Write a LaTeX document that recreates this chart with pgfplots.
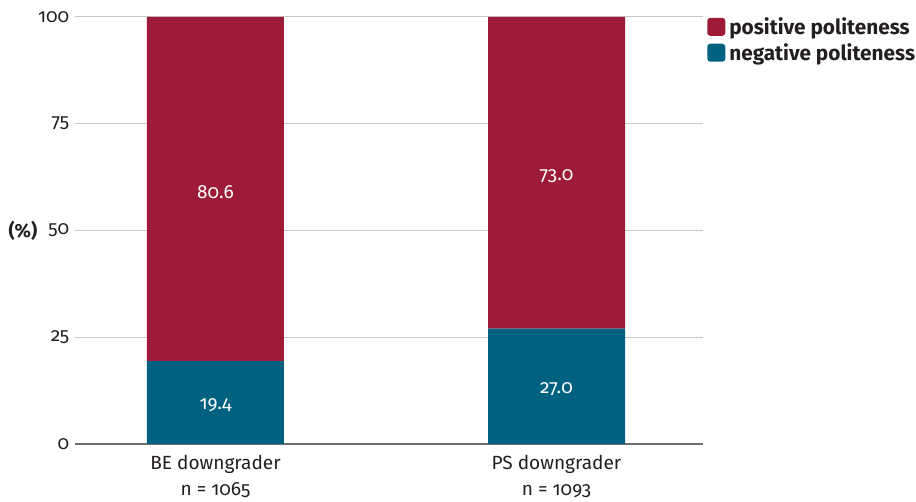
\documentclass[border=0pt]{standalone}
\usepackage{fontspec}
\setmainfont{Fira Sans}[Numbers=OldStyle]
\usepackage{pgfplots}
\pgfplotsset{compat=1.18}
\newlength\px
\setlength\px{0.75pt}
\definecolor{posred}{RGB}{157,27,55}
\definecolor{negteal}{RGB}{0,98,128}
\definecolor{gridgray}{RGB}{200,200,200}
\definecolor{basegray}{RGB}{110,110,110}
\definecolor{txt}{RGB}{35,31,32}
\newcommand\tfont{\fontsize{14.3}{17}\selectfont}
\begin{document}
\begin{tikzpicture}
\begin{axis}[
  at={(75\px,58\px)}, anchor=south west,
  scale only axis, width=628\px, height=427\px,
  xmin=-0.412, xmax=1.4296, ymin=0, ymax=100,
  axis line style={draw=none},
  major tick length=0pt,
  ymajorgrids,
  grid style={gridgray, line width=1\px},
  extra y ticks={0},
  extra y tick labels={},
  extra y tick style={grid style={basegray, line width=1.2\px}},
  ytick={0,25,50,75,100},
  xtick={0,1},
  xticklabels={{BE downgrader\\[4\px]n = 1065},{PS downgrader\\[4\px]n = 1093}},
  xticklabel style={align=center, font=\tfont, text=txt, yshift=-6\px},
  yticklabel style={font=\tfont, text=txt, xshift=-1\px},
  /pgf/number format/assume math mode=true,
  ylabel={(\%)},
  every axis y label/.style={at={(rel axis cs:0,0.5)}, anchor=east, xshift=-33\px, font=\tfont\bfseries, text=txt},
  ybar stacked, bar width=137\px,
  reverse legend,
  legend cell align=left,
  legend style={at={(rel axis cs:1.0064,1.002)}, anchor=north west, draw=none, fill=none, inner sep=0pt,
    font=\fontsize{15.6}{18}\selectfont\bfseries, text=txt, row sep=5\px,
    nodes={inner sep=1\px}, /tikz/every odd column/.append style={column sep=3\px}},
]
\addplot[fill=negteal, draw=none,
  legend image code/.code={\fill[negteal, rounded corners=3\px] (0\px,-9\px) rectangle (18\px,9\px);}]
  coordinates {(0,19.4) (1,27.0)};
\addlegendentry{negative politeness}
\addplot[fill=posred, draw=none,
  legend image code/.code={\fill[posred, rounded corners=3\px] (0\px,-9\px) rectangle (18\px,9\px);}]
  coordinates {(0,80.6) (1,73.0)};
\addlegendentry{positive politeness}
\end{axis}
\begin{axis}[
  at={(75\px,58\px)}, anchor=south west,
  scale only axis, width=628\px, height=427\px,
  xmin=-0.412, xmax=1.4296, ymin=0, ymax=100,
  hide axis,
]
\addplot[draw=none, mark=none, nodes near coords, point meta=explicit symbolic,
  nodes near coords style={anchor=center, text=white, font=\tfont, yshift=-3\px}]
  coordinates {(0,9.7)[19.4] (1,13.5)[27.0] (0,59.7)[80.6] (1,63.5)[73.0]};
\end{axis}
\pgfresetboundingbox
\path[use as bounding box] (0,0) rectangle (916\px,502\px);
\end{tikzpicture}
\end{document}
